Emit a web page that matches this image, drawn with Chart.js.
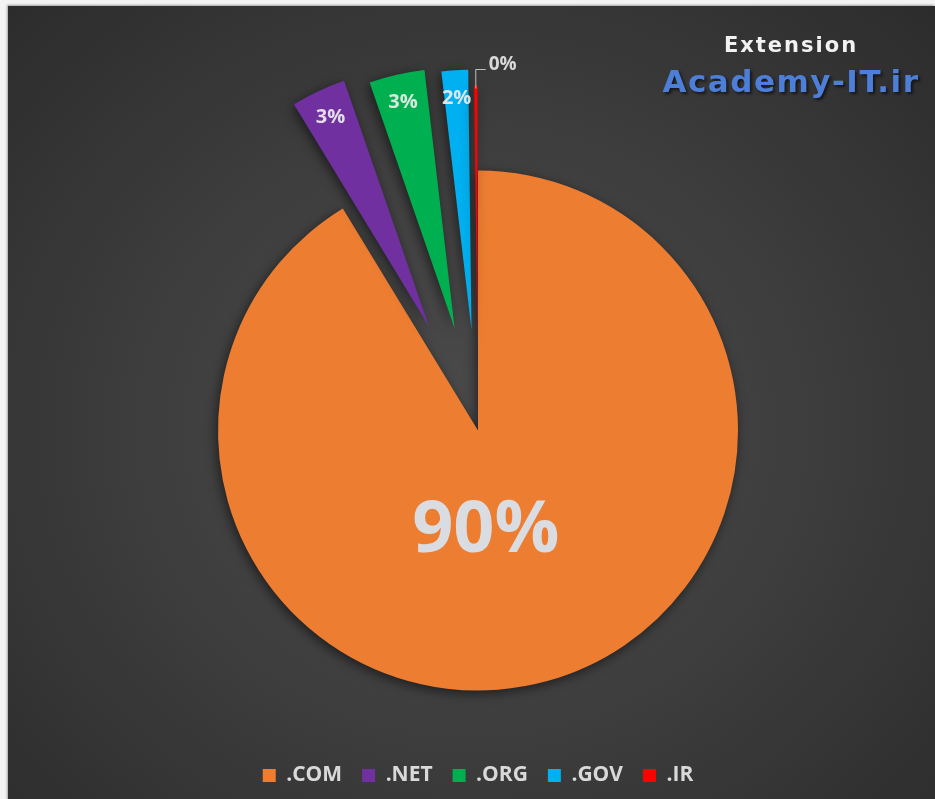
<!DOCTYPE html>
<html>
<head>
<meta charset="utf-8">
<title>Extension</title>
<script src="https://cdn.jsdelivr.net/npm/chart.js@4.4.1/dist/chart.umd.min.js"></script>
<style>
  html, body { margin: 0; padding: 0; width: 935px; height: 799px; overflow: hidden; background: #f3f3f3; }
  #frame {
    position: absolute; left: 8px; top: 6px; width: 927px; height: 800px;
    background: radial-gradient(ellipse at 50% 53%, #4b4b4b 0%, #414141 40%, #2c2c2c 100%);
    box-shadow: -1px -1px 2px rgba(0,0,0,0.35);
  }
  .ttl {
    position: absolute; font-family: "DejaVu Sans", sans-serif; font-weight: bold;
    white-space: nowrap; transform: translateX(-50%);
  }
  #title { left: 783px; top: 29px; font-size: 21px; line-height: 21px; letter-spacing: 2px; color: #f2f2f2; }
  #site  { left: 783px; top: 60px; font-size: 31px; line-height: 31px; letter-spacing: 1.5px; color: #4d7ed8;
           text-shadow: 2px 2px 3px rgba(0,0,0,0.6); }
</style>
</head>
<body>
<div id="frame">
  <canvas id="pie"></canvas>
  <div class="ttl" id="title">Extension</div>
  <div class="ttl" id="site">Academy-IT.ir</div>
</div>
<script>
// داده‌ها
const categories = ['.COM', '.NET', '.ORG', '.GOV', '.IR'];
const shares = [91.3, 3.4, 3.45, 1.65, 0.2];
const shareLabels = ['90%', '3%', '3%', '2%', '0%'];
const sliceColors = ['#ED7D31', '#7030A0', '#00B050', '#00B0F0', '#FF0000'];

// explode distance of each slice (px)
const explode = [0, 115, 105, 101, 85];

// draw slices pushed out from the centre, with a soft shadow
const explodePlugin = {
    id: 'explodeSlices',
    beforeDatasetDraw(chart, args) {
        const ctx = chart.ctx;
        args.meta.data.forEach((arc, i) => {
            const mid = (arc.startAngle + arc.endAngle) / 2;
            const d = explode[i];
            ctx.save();
            ctx.shadowColor = 'rgba(0,0,0,0.55)';
            ctx.shadowBlur = 12;
            ctx.shadowOffsetX = -2;
            ctx.shadowOffsetY = 3;
            ctx.translate(Math.cos(mid) * d, Math.sin(mid) * d);
            arc.draw(ctx);
            ctx.restore();
        });
        return false;
    }
};

// percent labels
const labelPlugin = {
    id: 'sliceLabels',
    afterDatasetsDraw(chart) {
        const ctx = chart.ctx;
        chart.getDatasetMeta(0).data.forEach((arc, i) => {
            const { x, y, startAngle, endAngle, outerRadius: r } = arc;
            const mid = (startAngle + endAngle) / 2;
            const cx = Math.cos(mid), cy = Math.sin(mid);
            const d = explode[i];
            ctx.save();
            ctx.textAlign = 'center';
            ctx.textBaseline = 'middle';
            if (endAngle - startAngle > Math.PI) {
                ctx.font = '700 72px "Open Sans"';
                ctx.fillStyle = '#d9dde2';
                ctx.fillText(shareLabels[i], x + 0.03 * r, y + 0.39 * r);
            } else if (shares[i] >= 1) {
                ctx.font = '700 20px "Open Sans"';
                ctx.fillStyle = 'rgba(236,236,236,0.92)';
                const k = d + 0.89 * r;
                ctx.fillText(shareLabels[i], x + cx * k, y + cy * k);
            } else {
                // leader line to an outside label
                const k0 = d + r - 3, k1 = d + r + 16;
                const x1 = x + cx * k1, y1 = y + cy * k1;
                ctx.strokeStyle = '#bfbfbf';
                ctx.lineWidth = 1;
                ctx.beginPath();
                ctx.moveTo(x + cx * k0, y + cy * k0);
                ctx.lineTo(x1, y1);
                ctx.lineTo(x1 + 10, y1);
                ctx.stroke();
                ctx.font = '700 19px "Open Sans"';
                ctx.fillStyle = '#d9d9d9';
                ctx.textAlign = 'left';
                ctx.textBaseline = 'alphabetic';
                ctx.fillText(shareLabels[i], x1 + 13, y1);
            }
            ctx.restore();
        });
    }
};

new Chart(document.getElementById('pie'), {
    type: 'pie',
    data: {
        labels: categories,
        datasets: [{
            data: shares,
            backgroundColor: sliceColors,
            borderWidth: 0
        }]
    },
    options: {
        responsive: true, maintainAspectRatio: false,
        animation: false,
        events: [],
        radius: 260,
        layout: { padding: { top: 110, left: 13, right: 0, bottom: 10 } },
        plugins: {
            legend: {
                position: 'bottom',
                labels: {
                    color: '#d9d9d9',
                    font: { family: 'Open Sans', size: 21, weight: 'bold' },
                    boxWidth: 13, boxHeight: 13, padding: 20
                }
            },
            tooltip: { enabled: false }
        }
    },
    plugins: [explodePlugin, labelPlugin]
});
</script>
</body>
</html>
